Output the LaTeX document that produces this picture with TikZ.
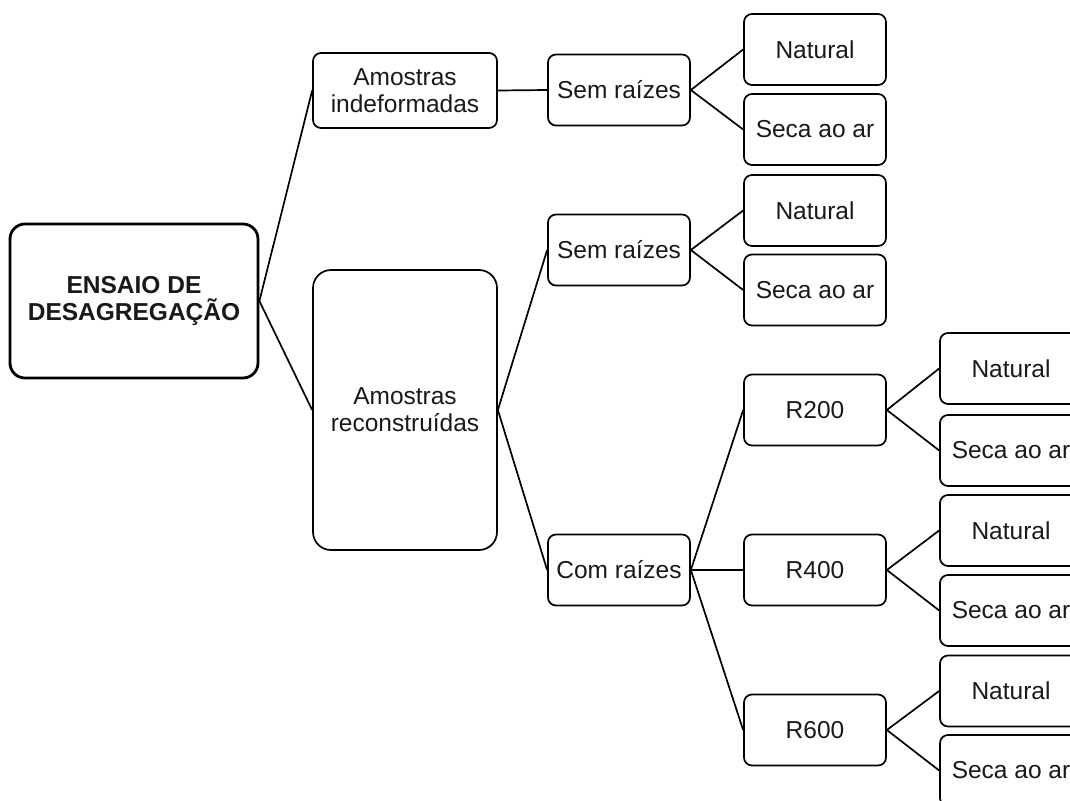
\documentclass[tikz,border=0pt]{standalone}
\usepackage{fontspec}
\setmainfont{Liberation Sans}
\begin{document}
\begin{tikzpicture}[x=1pt,y=-1pt,
  box/.style={draw, rounded corners=8pt, fill=white, line width=1.7pt,
    align=center, inner sep=0pt, text=black!90,
    font=\fontsize{24.5}{27}\selectfont},
  leaf/.style={box, minimum width=142pt, minimum height=71pt},
  link/.style={line width=1.7pt}]
\useasboundingbox (0,0) rectangle (1070,800);
\clip (0,0) rectangle (1070,800);

% root
\node[box, line width=2.8pt, rounded corners=15pt, minimum width=248pt,
  minimum height=154pt, font=\bfseries\fontsize{24.5}{27}\selectfont]
  (root) at (134,301) {ENSAIO DE\\DESAGREGAÇÃO};

% sample types
\node[box, minimum width=184pt, minimum height=75pt] (ind) at (405,90.5)
  {Amostras\\indeformadas};
\node[box, rounded corners=18pt, minimum width=184pt, minimum height=280pt]
  (rec) at (405,410) {Amostras\\reconstruídas};

% root presence
\node[leaf] (sr1) at (619,90) {Sem raízes};
\node[leaf] (sr2) at (619,250) {Sem raízes};
\node[leaf] (cr) at (619,570) {Com raízes};

% moisture, no roots
\node[leaf] (n1) at (815,49.5) {Natural};
\node[leaf] (s1) at (815,129.5) {Seca ao ar};
\node[leaf] (n2) at (815,210.5) {Natural};
\node[leaf] (s2) at (815,290) {Seca ao ar};

% root contents
\node[leaf] (r200) at (815,410) {R200};
\node[leaf] (r400) at (815,570) {R400};
\node[leaf] (r600) at (815,730) {R600};

% moisture, with roots
\node[leaf] (n3) at (1011,368.5) {Natural};
\node[leaf] (s3) at (1011,450.5) {Seca ao ar};
\node[leaf] (n4) at (1011,530.5) {Natural};
\node[leaf] (s4) at (1011,610.5) {Seca ao ar};
\node[leaf] (n5) at (1011,691) {Natural};
\node[leaf] (s5) at (1011,770.5) {Seca ao ar};

% connectors
\draw[link] (root.east) -- (ind.west);
\draw[link] (root.east) -- (rec.west);
\draw[link] (ind.east) -- (sr1.west);
\draw[link] (rec.east) -- (sr2.west);
\draw[link] (rec.east) -- (cr.west);
\draw[link] (sr1.east) -- (n1.west);
\draw[link] (sr1.east) -- (s1.west);
\draw[link] (sr2.east) -- (n2.west);
\draw[link] (sr2.east) -- (s2.west);
\draw[link] (cr.east) -- (r200.west);
\draw[link] (cr.east) -- (r400.west);
\draw[link] (cr.east) -- (r600.west);
\draw[link] (r200.east) -- (n3.west);
\draw[link] (r200.east) -- (s3.west);
\draw[link] (r400.east) -- (n4.west);
\draw[link] (r400.east) -- (s4.west);
\draw[link] (r600.east) -- (n5.west);
\draw[link] (r600.east) -- (s5.west);
\end{tikzpicture}
\end{document}
